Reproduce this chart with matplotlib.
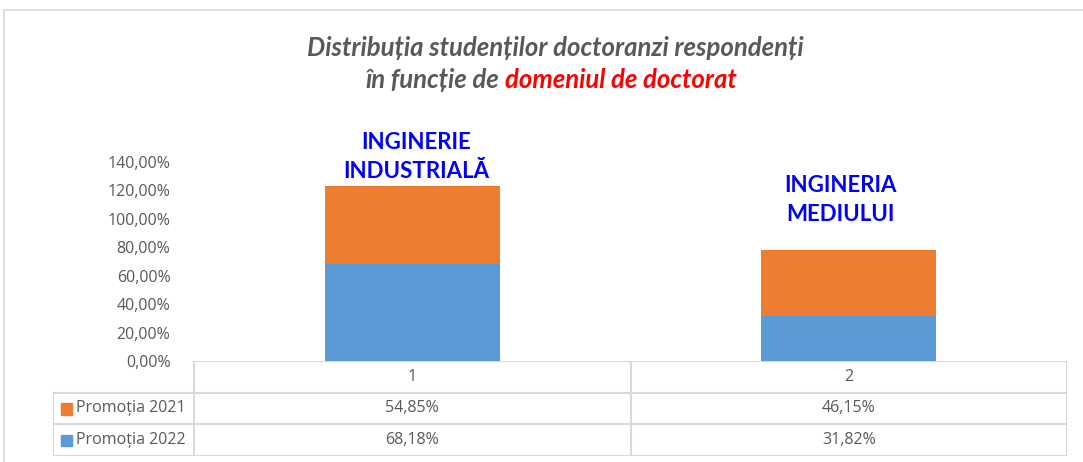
import matplotlib.pyplot as plt
from matplotlib.patches import Rectangle
from matplotlib.ticker import FuncFormatter

# Chart data
categories = ["1", "2"]
domains = ["INGINERIE\nINDUSTRIALĂ", "INGINERIA\nMEDIULUI"]
promotia_2022 = [68.18, 31.82]
promotia_2021 = [54.85, 46.15]
series_names = ["Promoția 2021", "Promoția 2022"]
y_ticks = [0, 20, 40, 60, 80, 100, 120, 140]

# Styling
BLUE = "#5B9BD5"
ORANGE = "#ED7D31"
GRAY = "#595959"
LINE = "#D9D9D9"
W, H = 1083, 462

fig = plt.figure(figsize=(W / 100, H / 100), dpi=100)

# outer chart frame
fig.patches.append(Rectangle((4 / W, -0.1), 1.2, 1 - 10 / H + 0.1, transform=fig.transFigure,
                             fill=False, edgecolor=LINE, linewidth=1.2))

# main plot area
ax = fig.add_axes([194 / W, 1 - 361 / H, (1067 - 194) / W, (361 - 162) / H])
x = list(range(len(categories)))
ax.bar(x, promotia_2022, width=0.4, color=BLUE)
ax.bar(x, promotia_2021, width=0.4, bottom=promotia_2022, color=ORANGE)
ax.set_xlim(-0.5, len(categories) - 0.5)
ax.set_ylim(0, 140)
ax.set_yticks(y_ticks)
ax.yaxis.set_major_formatter(FuncFormatter(lambda v, p: f"{v:.2f}".replace(".", ",") + "%"))
ax.tick_params(axis="y", length=0, pad=17, labelsize=11.5, labelcolor=GRAY)
ax.set_xticks([])
for lab in ax.get_yticklabels():
    lab.set_fontfamily("Open Sans")
for s in ax.spines.values():
    s.set_visible(False)

# domain labels above the bars
label_y = [143.5, 113.2]
label_dx = [0.01, -0.02]
for i, name in enumerate(domains):
    ax.text(i + label_dx[i], label_y[i], name, ha="center", va="center", color="#0000FF",
            fontsize=16, fontweight="bold", family="Lato", linespacing=1.45, clip_on=False)

# data table under the chart
tax = fig.add_axes([53 / W, 1 - 456 / H, (1067 - 53) / W, (456 - 361) / H])
left = -0.5 - (194 - 53) / 436.5
tax.set_xlim(left, len(categories) - 0.5)
tax.set_ylim(3, 0)
tax.axis("off")
lw = 1.5
tax.plot([-0.5, 1.5], [0, 0], color=LINE, lw=lw)
for r in [1, 2, 3]:
    tax.plot([left, 1.5], [r, r], color=LINE, lw=lw)
for c in [-0.5, 0.5, 1.5]:
    tax.plot([c, c], [0, 3], color=LINE, lw=lw)
tax.plot([left, left], [1, 3], color=LINE, lw=lw)

tkw = dict(ha="center", va="center", color=GRAY, fontsize=11.5, family="Open Sans")
for i, c in enumerate(categories):
    tax.text(i, 0.5, c, **tkw)
rows = [(series_names[0], ORANGE, promotia_2021), (series_names[1], BLUE, promotia_2022)]
for r, (name, col, vals) in enumerate(rows, start=1):
    tax.add_patch(Rectangle((left + 0.018, r + 0.33), 0.025, 0.36, color=col))
    tax.text(left + 0.052, r + 0.5, name, ha="left", va="center", color=GRAY,
             fontsize=11.5, family="Open Sans")
    for i, v in enumerate(vals):
        tax.text(i, r + 0.5, f"{v:.2f}".replace(".", ",") + "%", **tkw)

# title, second line with red part
tfont = dict(fontsize=18.5, fontweight="bold", style="italic", family="Lato", va="baseline")
fig.text(555 / W, 1 - 56 / H, "Distribuția studenților doctoranzi respondenți",
         ha="center", color=GRAY, **tfont)
p1 = fig.text(0, 1 - 88 / H, "în funcție de ", ha="left", color=GRAY, **tfont)
p2 = fig.text(0, 1 - 88 / H, "domeniul de doctorat", ha="left", color="#FF0000", **tfont)
fig.canvas.draw()
r = fig.canvas.get_renderer()
w1 = p1.get_window_extent(r).width
w2 = p2.get_window_extent(r).width
x0 = 551 - (w1 + w2) / 2
p1.set_x(x0 / W)
p2.set_x((x0 + w1) / W)

fig.savefig("out.png", dpi=100)
